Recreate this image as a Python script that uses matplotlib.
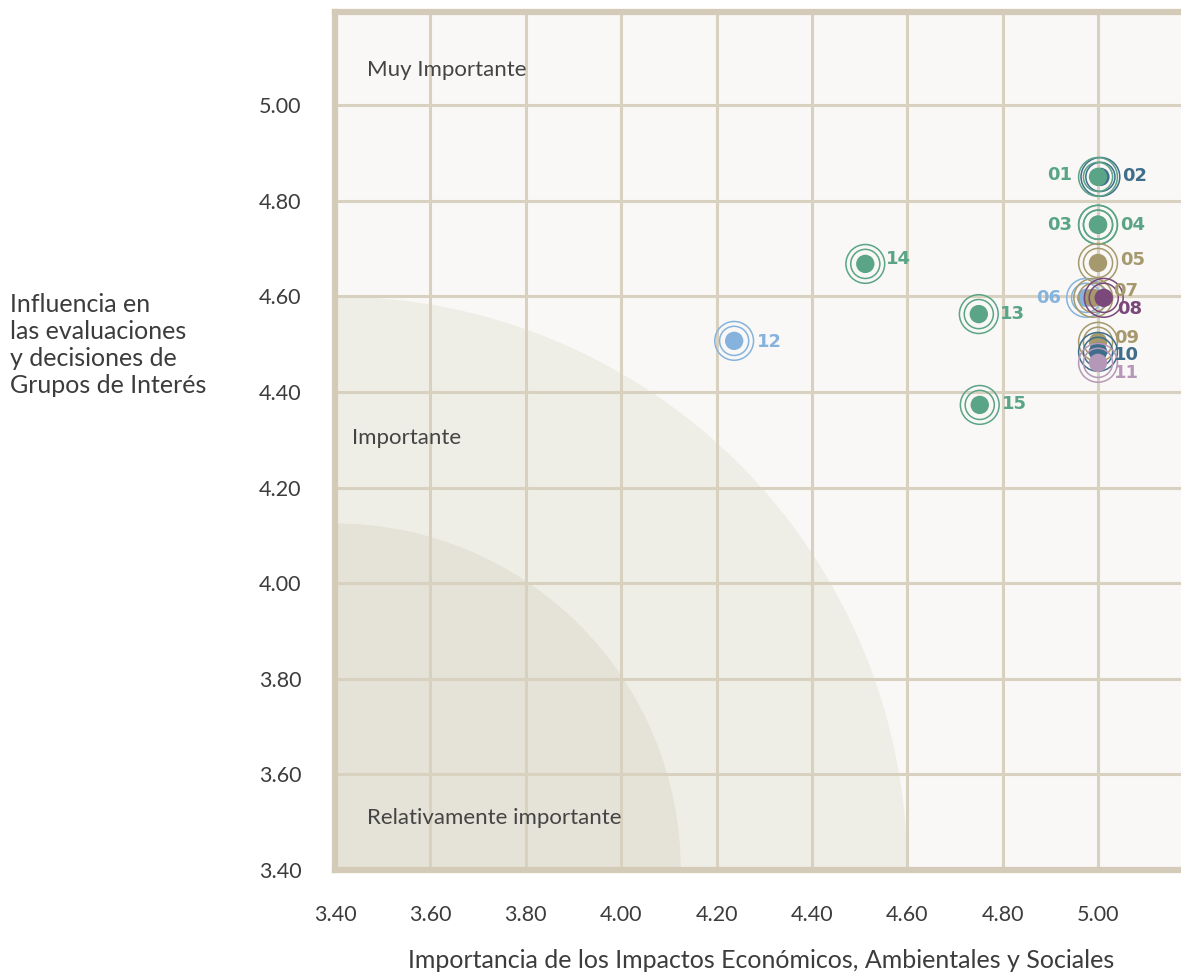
import matplotlib
matplotlib.use("Agg")
import matplotlib.pyplot as plt
from matplotlib.patches import Wedge

# ---- data ----
labels = ["01", "02", "03", "04", "05", "06", "07", "08", "09", "10", "11", "12", "13", "14", "15"]
x_vals = [5.00, 5.005, 5.00, 5.00, 5.00, 4.975, 4.99, 5.012, 5.00, 5.00, 5.00, 4.237, 4.750, 4.512, 4.752]
y_vals = [4.85, 4.85, 4.75, 4.75, 4.67, 4.597, 4.597, 4.597, 4.505, 4.484, 4.461, 4.507, 4.563, 4.668, 4.373]
groups = ["g", "b", "g", "g", "t", "lb", "t", "p", "t", "b", "lp", "lb", "g", "g", "g"]
palette = {"g": "#5aa487", "b": "#3f6e8b", "t": "#a5996d", "lb": "#86b3de", "p": "#7a4879", "lp": "#b597b7"}
x_ticks = [3.40, 3.60, 3.80, 4.00, 4.20, 4.40, 4.60, 4.80, 5.00]
y_ticks = [3.40, 3.60, 3.80, 4.00, 4.20, 4.40, 4.60, 4.80, 5.00]
zone_names = ["Muy Importante", "Importante", "Relativamente importante"]
zone_pos = [(3.467, 5.074), (3.436, 4.304), (3.467, 3.509)]
zone_radii = [1.2, 0.725]

# label offsets in pixels (dx, dy) and alignment
label_off = {"01": (-26, 2, "right"), "03": (-26, 0, "right"), "06": (-25, 0, "right"),
             "02": (22, 1, "left"), "04": (22, 0, "left"), "05": (22, 3, "left"),
             "07": (20, 7, "left"), "08": (13, -11, "left"), "09": (16, 4, "left"),
             "10": (16, -3, "left"), "11": (16, -10, "left"), "12": (23, -1, "left"),
             "13": (21, 0, "left"), "14": (21, 5, "left"), "15": (22, 1, "left")}

W, H = 1181, 977
fig = plt.figure(figsize=(W / 100, H / 100), dpi=100)
ax = fig.add_axes([335 / W, 1 - 870 / H, 1 - 335 / W, (870 - 12) / H])
ax.set_facecolor("#f9f8f6")
ax.set_xlim(3.40, 5.174)
ax.set_ylim(3.40, 5.195)

font = "Lato"
spine_col = "#d3cbb7"
grid_col = "#d9d1bf"
text_col = "#3c3c3c"

# zones
ax.add_patch(Wedge((3.4, 3.4), zone_radii[0], 0, 90, facecolor="#efeee6", edgecolor="none", zorder=0))
ax.add_patch(Wedge((3.4, 3.4), zone_radii[1], 0, 90, facecolor="#e5e2d7", edgecolor="none", zorder=0.1))

ax.set_xticks(x_ticks)
ax.set_yticks(y_ticks)
ax.set_xticklabels([f"{v:.2f}" for v in x_ticks], fontfamily=font, fontsize=15.5, color=text_col)
ax.set_yticklabels([f"{v:.2f}" for v in y_ticks], fontfamily=font, fontsize=15.5, color=text_col)
ax.tick_params(length=0, pad=0)
ax.tick_params(axis="x", pad=25)
ax.tick_params(axis="y", pad=24)
ax.grid(True, color=grid_col, linewidth=2.2, zorder=1)
ax.set_axisbelow(True)

for s in ["left", "top", "bottom"]:
    ax.spines[s].set_color(spine_col)
    ax.spines[s].set_linewidth(4.5)
    ax.spines[s].set_zorder(3)
ax.spines["right"].set_visible(False)

for name, (zx, zy) in zip(zone_names, zone_pos):
    ax.text(zx, zy, name, fontfamily=font, fontsize=16, color="#444444", ha="left", va="center", zorder=4)

order = [1, 0] + list(range(2, 15))
for k, i in enumerate(order):
    c = palette[groups[i]]
    z = 5 + k * 0.01
    ax.scatter([x_vals[i]], [y_vals[i]], s=780, facecolors="none", edgecolors=c, linewidths=1.1, zorder=z)
    ax.scatter([x_vals[i]], [y_vals[i]], s=440, facecolors="none", edgecolors=c, linewidths=1.1, zorder=z)
    ax.scatter([x_vals[i]], [y_vals[i]], s=175, color=c, edgecolors="none", zorder=z)

for i, lab in enumerate(labels):
    dx, dy, ha = label_off[lab]
    ax.annotate(lab, (x_vals[i], y_vals[i]), xytext=(dx * 0.72, dy * 0.72), textcoords="offset points",
                ha=ha, va="center", fontfamily="DejaVu Sans", fontweight="bold", fontsize=13,
                color=palette[groups[i]], zorder=8)

fig.text(10 / W, 1 - 345 / H, "Influencia en\nlas evaluaciones\ny decisiones de\nGrupos de Interés",
         fontfamily=font, fontsize=18, color=text_col, ha="left", va="center", linespacing=1.2)
fig.text(761 / W, 1 - 960 / H, "Importancia de los Impactos Económicos, Ambientales y Sociales",
         fontfamily=font, fontsize=18, color=text_col, ha="center", va="center")

fig.savefig("out.png", dpi=100, facecolor="white")
